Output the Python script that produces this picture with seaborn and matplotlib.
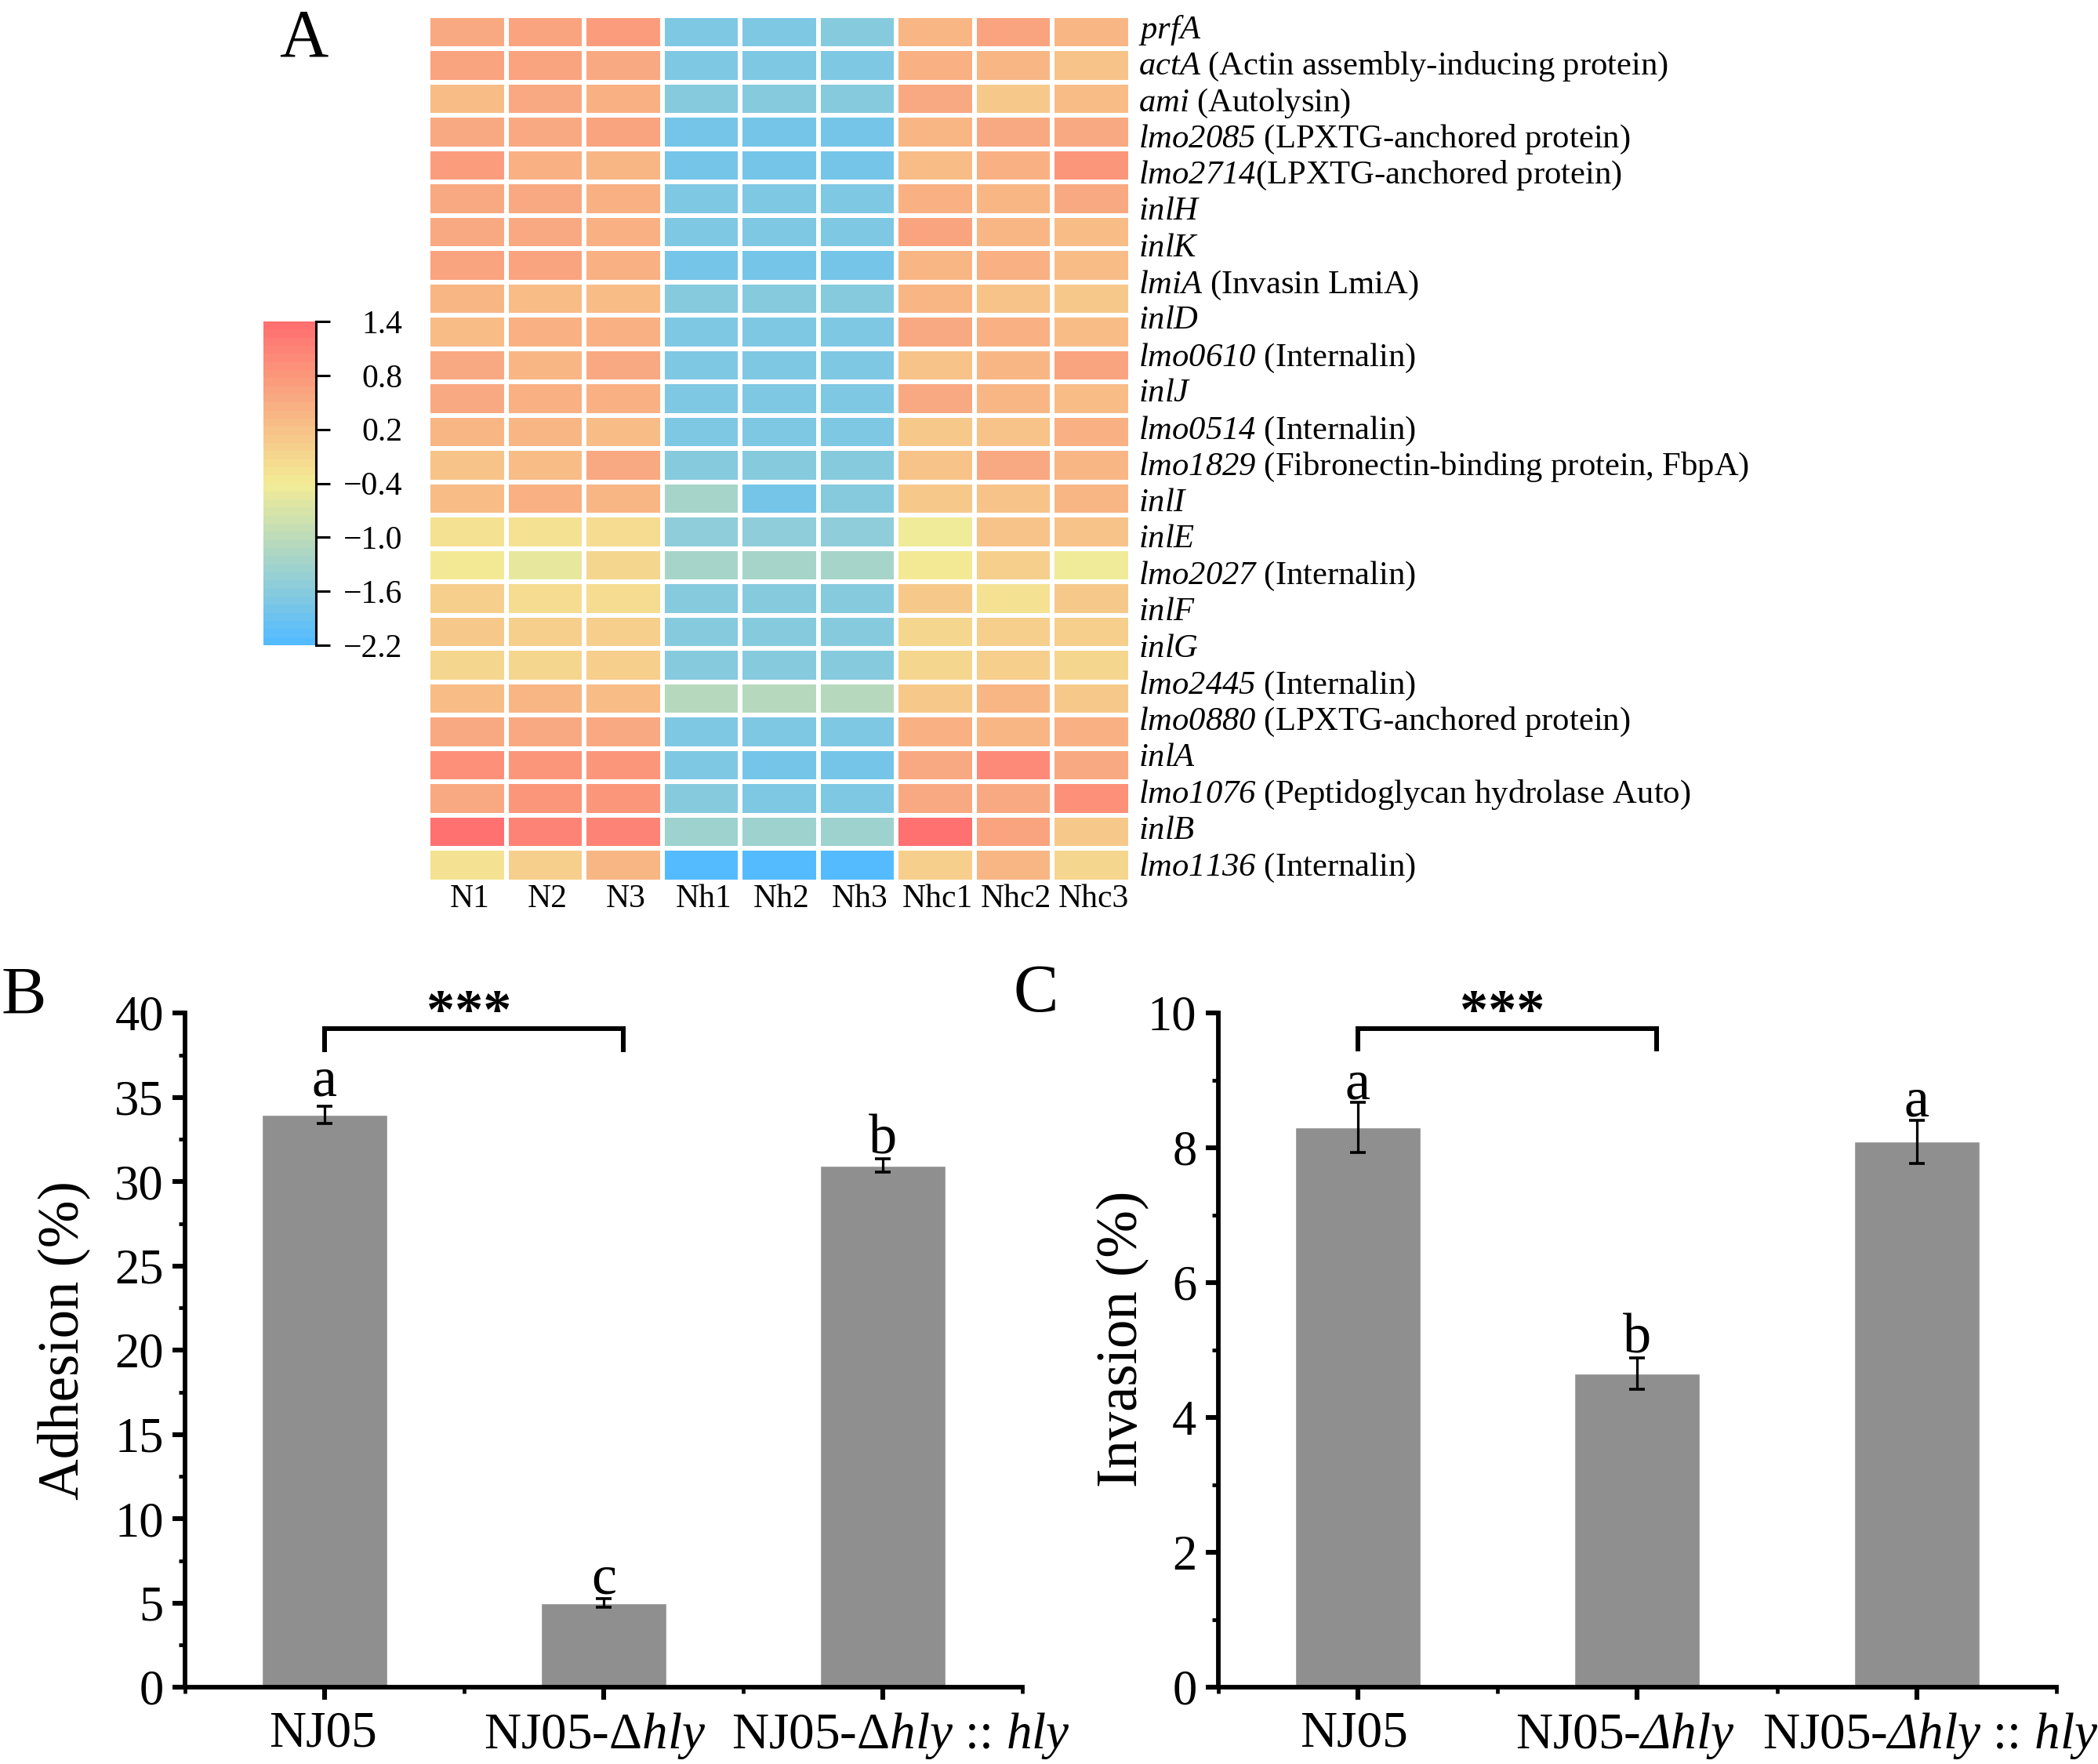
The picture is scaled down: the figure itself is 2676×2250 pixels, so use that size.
import numpy as np, pandas as pd
import matplotlib
matplotlib.use("Agg")
import matplotlib.pyplot as plt
from matplotlib.colors import LinearSegmentedColormap
from matplotlib.transforms import ScaledTranslation
import seaborn as sns

sns.set_style("white")
plt.rcParams['font.family'] = ['Liberation Serif', 'DejaVu Serif']
plt.rcParams['mathtext.fontset'] = 'custom'
plt.rcParams['mathtext.rm'] = 'Liberation Serif:italic'
plt.rcParams['mathtext.it'] = 'Liberation Serif:italic'
plt.rcParams['axes.unicode_minus'] = True
for key in ('text.color', 'axes.labelcolor', 'xtick.color', 'ytick.color'):
    plt.rcParams[key] = 'black'

samples = ["N1", "N2", "N3", "Nh1", "Nh2", "Nh3", "Nhc1", "Nhc2", "Nhc3"]
gene_labels = [
    r"$\mathit{prfA}$",
    r"$\mathit{actA}$ (Actin assembly-inducing protein)",
    r"$\mathit{ami}$ (Autolysin)",
    r"$\mathit{lmo2085}$ (LPXTG-anchored protein)",
    r"$\mathit{lmo2714}$(LPXTG-anchored protein)",
    r"$\mathit{inlH}$",
    r"$\mathit{inlK}$",
    r"$\mathit{lmiA}$ (Invasin LmiA)",
    r"$\mathit{inlD}$",
    r"$\mathit{lmo0610}$ (Internalin)",
    r"$\mathit{inlJ}$",
    r"$\mathit{lmo0514}$ (Internalin)",
    r"$\mathit{lmo1829}$ (Fibronectin-binding protein, FbpA)",
    r"$\mathit{inlI}$",
    r"$\mathit{inlE}$",
    r"$\mathit{lmo2027}$ (Internalin)",
    r"$\mathit{inlF}$",
    r"$\mathit{inlG}$",
    r"$\mathit{lmo2445}$ (Internalin)",
    r"$\mathit{lmo0880}$ (LPXTG-anchored protein)",
    r"$\mathit{inlA}$",
    r"$\mathit{lmo1076}$ (Peptidoglycan hydrolase Auto)",
    r"$\mathit{inlB}$",
    r"$\mathit{lmo1136}$ (Internalin)",
]
expression = [
    [.52, .62, .76, -1.68, -1.68, -1.66, .40, .66, .34],
    [.65, .62, .58, -1.68, -1.68, -1.68, .45, .40, .18],
    [.28, .50, .48, -1.66, -1.66, -1.64, .58, .10, .30],
    [.50, .58, .65, -1.82, -1.82, -1.82, .40, .52, .52],
    [.76, .42, .32, -1.82, -1.82, -1.82, .30, .44, .84],
    [.58, .56, .42, -1.74, -1.74, -1.72, .45, .38, .58],
    [.58, .58, .48, -1.74, -1.74, -1.72, .66, .40, .25],
    [.60, .60, .42, -1.78, -1.78, -1.78, .32, .44, .28],
    [.34, .24, .28, -1.58, -1.58, -1.58, .40, .14, .12],
    [.28, .42, .42, -1.68, -1.68, -1.68, .55, .46, .28],
    [.58, .40, .52, -1.70, -1.70, -1.70, .18, .34, .62],
    [.50, .44, .44, -1.70, -1.70, -1.70, .55, .38, .30],
    [.34, .34, .30, -1.70, -1.70, -1.70, .12, .14, .42],
    [.22, .24, .55, -1.60, -1.60, -1.60, .16, .52, .40],
    [.28, .42, .40, -1.28, -1.84, -1.60, .06, .14, .37],
    [-.28, -.28, -.18, -1.56, -1.56, -1.56, -.42, .15, .18],
    [-.33, -.55, -.05, -1.28, -1.26, -1.26, -.40, -.02, -.42],
    [-.03, -.20, -.22, -1.62, -1.62, -1.62, .05, -.30, .05],
    [.06, .02, .02, -1.62, -1.62, -1.62, -.10, .02, .00],
    [-.12, -.10, .03, -1.62, -1.62, -1.62, -.12, .04, -.06],
    [.30, .40, .28, -1.12, -1.10, -1.10, .10, .38, .08],
    [.52, .58, .55, -1.70, -1.70, -1.70, .42, .40, .46],
    [.90, .82, .80, -1.70, -1.78, -1.80, .52, 1.00, .50],
    [.55, .82, .84, -1.63, -1.68, -1.73, .50, .58, .87],
    [1.40, 1.12, 1.12, -1.33, -1.33, -1.33, 1.35, .66, .08],
    [-.28, .00, .35, -2.20, -2.20, -2.20, .04, .38, -.08],
]
cbar_ticks = [1.4, 0.8, 0.2, -0.4, -1.0, -1.6, -2.2]

strains_b = ["NJ05", "NJ05-Δ$\\mathit{hly}$", "NJ05-Δ$\\mathit{hly}$ :: $\\mathit{hly}$"]
strains_c = ["NJ05", "NJ05-$\\mathit{Δhly}$", "NJ05-$\\mathit{Δhly}$ :: $\\mathit{hly}$"]
adhesion = [33.95, 5.0, 30.95]
adhesion_err = [0.5, 0.25, 0.4]
adhesion_letters = ["a", "c", "b"]
invasion = [8.3, 4.65, 8.09]
invasion_err = [0.37, 0.23, 0.32]
invasion_letters = ["a", "b", "a"]

W, H = 2676, 2250
fig = plt.figure(figsize=(W / 100, H / 100), dpi=100, facecolor="white")

def axes_px(x0, y0, x1, y1):
    return fig.add_axes([x0 / W, 1 - y1 / H, (x1 - x0) / W, (y1 - y0) / H])

def shift(t, dx):
    t.set_transform(t.get_transform() + ScaledTranslation(dx / 100, 0, fig.dpi_scale_trans))

cmap = LinearSegmentedColormap.from_list("rd", ["#55BBFF", "#F3EC95", "#FF7070"], N=40)

ax_h = axes_px(546, 19.5, 1442, 1124.5)
cax = axes_px(336, 410, 403, 823)
df = pd.DataFrame(expression, columns=samples)
sns.heatmap(df, ax=ax_h, cbar_ax=cax, cmap=cmap, vmin=-2.2, vmax=1.4,
            linewidths=4.1, linecolor="white", cbar_kws={"ticks": cbar_ticks})
ax_h.set_xticks(np.arange(9) + 0.5, samples, rotation=0)
ax_h.tick_params(axis="x", length=0, labelsize=30, pad=2.5, bottom=True)
for t in ax_h.get_xticklabels():
    shift(t, 3)
ax_h.yaxis.tick_right()
ax_h.set_yticks(np.linspace(0.32, 25.46, 24), gene_labels, rotation=0)
ax_h.tick_params(axis="y", length=0, labelsize=30.7, pad=7, right=True)

cb = ax_h.collections[0].colorbar
cb.outline.set_visible(False)
cax.spines["right"].set_visible(True)
cax.spines["right"].set_linewidth(2.2)
cax.spines["right"].set_color("black")
cax.tick_params(axis="y", direction="out", length=13, width=2.2, color="black",
                labelsize=30, right=True, pad=8)
cax.set_yticks(cbar_ticks, [f"{t:.1f}".replace("-", "−") for t in cbar_ticks])
for t in cax.get_yticklabels():
    t.set_ha("right")
    shift(t, 81)

def bar_panel(ax, strains, vals, errs, letters, letter_y, ymax, major, minor, ylabel, lab_x,
              lab_y, brack, star_y, offsets):
    data = pd.DataFrame({"strain": strains, "value": vals})
    sns.barplot(data=data, x="strain", y="value", ax=ax, color="#8F8F8F", saturation=1,
                width=0.45, errorbar=None)
    ax.errorbar(range(3), vals, yerr=errs, fmt="none", ecolor="black", elinewidth=2.3,
                capsize=7, capthick=2.6, zorder=5)
    ax.set_xlim(-0.5, 2.5)
    ax.set_ylim(0, ymax)
    sns.despine(ax=ax)
    for s in ("left", "bottom"):
        ax.spines[s].set_linewidth(4.2)
        ax.spines[s].set_color("black")
    ax.set_yticks(np.arange(0, ymax + major / 2, major))
    ax.set_yticks(np.arange(minor, ymax, major), minor=True)
    ax.set_xticks([-0.5, 0.5, 1.5, 2.5], minor=True)
    ax.tick_params(axis="both", which="major", direction="out", length=11.5, width=4.4,
                   color="black", left=True, bottom=True)
    ax.tick_params(axis="both", which="minor", direction="out", length=5.5, width=3.4,
                   color="black", left=True, bottom=True)
    ax.tick_params(axis="y", which="major", labelsize=45, pad=8)
    ax.tick_params(axis="x", which="major", labelsize=47, pad=10)
    ax.set_xlabel("")
    ax.set_ylabel(ylabel, fontsize=52.5, va="center", labelpad=0)
    ax.yaxis.set_label_coords(lab_x, lab_y)
    for t, dx in zip(ax.get_xticklabels(), offsets):
        shift(t, dx)
    for i, (l, y) in enumerate(zip(letters, letter_y)):
        ax.text(i, y, l, ha="center", va="baseline", fontsize=52, clip_on=False)
    top, low = brack
    ax.plot([0, 0, 1.07, 1.07], [low, top, top, low], color="black", lw=4.3, clip_on=False,
            solid_joinstyle="miter", solid_capstyle="butt")
    ax.text(0.518, star_y, "***", ha="center", va="baseline", fontsize=52,
            fontweight="bold", clip_on=False)

ax_b = axes_px(236, 1292, 1304, 2152)
bar_panel(ax_b, strains_b, adhesion, adhesion_err, adhesion_letters, [35.07, 5.58, 31.67],
          40, 5, 2.5, "Adhesion (%)", -0.145, 0.514, (39.07, 37.67), 39.1, [-2, -11, 23])
ax_c = axes_px(1553.5, 1292, 2623, 2152)
bar_panel(ax_c, strains_c, invasion, invasion_err, invasion_letters, [8.73, 4.96, 8.47],
          10, 2, 1, "Invasion (%)", -0.113, 0.517, (9.77, 9.43), 9.78, [-5, -15, 17])

for s, x, y in (("A", 356, 71), ("B", 1, 1293), ("C", 1292, 1290)):
    fig.text(x / W, 1 - y / H, s, fontsize=62, ha="left", va="baseline")

fig.savefig("out.png", dpi=100, facecolor="white")
